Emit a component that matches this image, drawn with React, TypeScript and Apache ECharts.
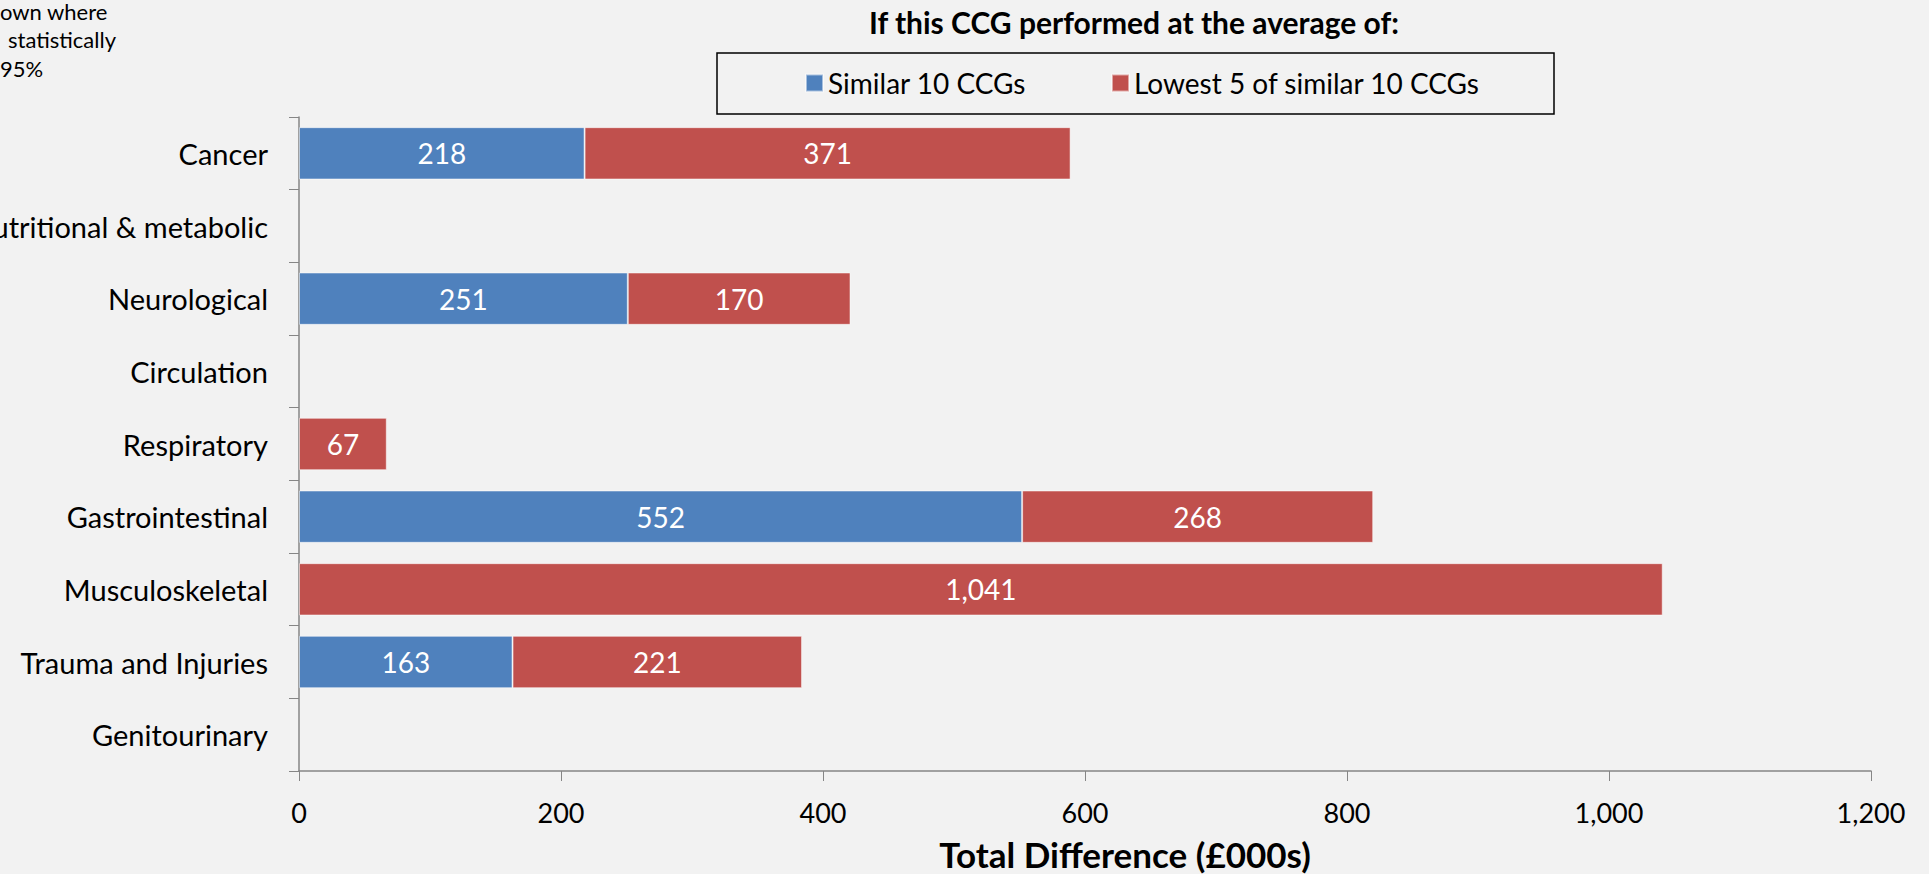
import React, { useEffect, useRef } from "react";
import * as echarts from "echarts";

const categories = [
  "Cancer",
  "Nutritional & metabolic",
  "Neurological",
  "Circulation",
  "Respiratory",
  "Gastrointestinal",
  "Musculoskeletal",
  "Trauma and Injuries",
  "Genitourinary",
];
const similar10: (number | null)[] = [218, null, 251, null, null, 552, null, 163, null];
const lowest5: (number | null)[] = [371, null, 170, null, 67, 268, 1041, 221, null];
const seriesNames = ["Similar 10 CCGs", "Lowest 5 of similar 10 CCGs"];
const xTicks = { min: 0, max: 1200, interval: 200 };
const noteLines = ["own where", "statistically", "95%"];

const FONT = "Lato, 'Open Sans', sans-serif";
const fmt = (v: number) => v.toLocaleString("en-US");

export default function App() {
  const ref = useRef<HTMLDivElement>(null);
  useEffect(() => {
    if (!ref.current) return;
    const chart = echarts.init(ref.current, undefined, { renderer: "svg" });
    const label = {
      show: true,
      position: "inside",
      color: "#ffffff",
      fontSize: 28,
      fontFamily: FONT,
      formatter: (p: any) => (p.value == null ? "" : fmt(p.value)),
    };
    const legendBase = {
      top: 64,
      icon: "rect",
      itemWidth: 17,
      itemHeight: 17,
      textStyle: { fontSize: 28, color: "#000", fontFamily: FONT },
      selectedMode: false,
    };
    chart.setOption({
      animation: false,
      backgroundColor: "#F2F2F2",
      textStyle: { fontFamily: FONT },
      grid: { left: 299, right: 58, top: 117, bottom: 103, outerBoundsMode: "none", containLabel: false },
      legend: [
        { ...legendBase, data: [seriesNames[0]], left: 800 },
        { ...legendBase, data: [seriesNames[1]], left: 1106 },
      ],
      xAxis: {
        type: "value",
        min: xTicks.min,
        max: xTicks.max,
        interval: xTicks.interval,
        axisLine: { show: true, lineStyle: { color: "#868686", width: 1.5 } },
        axisTick: { show: true, length: 10, lineStyle: { color: "#868686" } },
        splitLine: { show: false },
        axisLabel: {
          color: "#000",
          fontSize: 27,
          fontFamily: FONT,
          margin: 28,
          formatter: (v: number) => fmt(v),
        },
      },
      yAxis: {
        type: "category",
        data: categories,
        inverse: true,
        axisLine: { show: true, lineStyle: { color: "#868686", width: 1.5 } },
        axisTick: { show: true, length: 10, lineStyle: { color: "#868686" } },
        axisLabel: { color: "#000", fontSize: 29, fontFamily: FONT, margin: 31 },
      },
      series: [
        {
          name: seriesNames[0],
          type: "bar",
          stack: "total",
          data: similar10,
          barCategoryGap: "28%",
          itemStyle: { color: "#4F81BD", borderColor: "rgba(255,255,255,0.5)", borderWidth: 1 },
          label,
        },
        {
          name: seriesNames[1],
          type: "bar",
          stack: "total",
          data: lowest5,
          barCategoryGap: "28%",
          itemStyle: { color: "#C0504D", borderColor: "rgba(255,255,255,0.5)", borderWidth: 1 },
          label,
        },
      ],
      graphic: [
        {
          type: "text",
          style: {
            text: "If this CCG performed at the average of:",
            x: 1134,
            y: 22,
            align: "center",
            verticalAlign: "middle",
            font: `bold 30px ${FONT}`,
            fill: "#000",
          },
        },
        {
          type: "rect",
          shape: { x: 717, y: 53, width: 837, height: 61 },
          style: { fill: "none", stroke: "#000", lineWidth: 1.5 },
        },
        {
          type: "text",
          style: {
            text: "Total Difference (£000s)",
            x: 1125,
            y: 854,
            align: "center",
            verticalAlign: "middle",
            font: `bold 35px ${FONT}`,
            fill: "#000",
          },
        },
        ...noteLines.map((t, i) => ({
          type: "text",
          style: {
            text: t,
            x: i === 1 ? 8 : 0,
            y: [0, 28, 57][i],
            align: "left",
            verticalAlign: "top",
            font: `22px ${FONT}`,
            fill: "#000",
          },
        })),
      ],
    });
    return () => chart.dispose();
  }, []);
  return (
    <div
      ref={ref}
      style={{ position: "fixed", left: 0, top: 0, width: 1929, height: 874 }}
    />
  );
}
